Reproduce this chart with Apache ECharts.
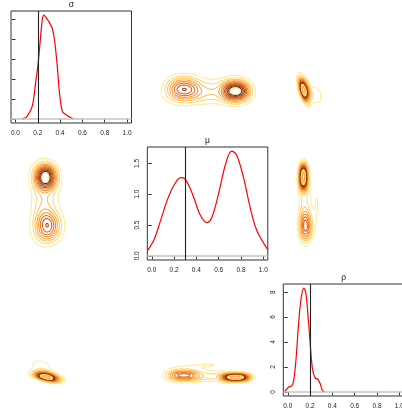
<!DOCTYPE html>
<html>
<head>
<meta charset="utf-8">
<script src="https://cdn.jsdelivr.net/npm/echarts@6/dist/echarts.min.js"></script>
<style>
html, body { margin: 0; padding: 0; background: #fff; }
#chart { width: 402px; height: 410px; }
</style>
</head>
<body>
<div id="chart"></div>
<script>
var paramNames = ['σ', 'μ', 'ρ'];
var trueValues = [0.2, 0.3, 0.2];
var xTicks = [0, 0.2, 0.4, 0.6, 0.8, 1.0];

// marginal posterior densities (diagonal panels)
var sigmaX = [0.06, 0.10, 0.15, 0.18, 0.20, 0.22, 0.24, 0.255, 0.27, 0.30, 0.33, 0.35, 0.375, 0.395, 0.42, 0.45, 0.49, 0.52];
var sigmaY = [0.00, 0.10, 0.63, 1.80, 2.63, 3.80, 4.97, 5.22, 5.13, 4.88, 4.55, 3.97, 2.63, 1.30, 0.38, 0.22, 0.08, 0.00];
var muX = [-0.04, 0.02, 0.08, 0.14, 0.20, 0.26, 0.29, 0.33, 0.38, 0.435, 0.495, 0.54, 0.60, 0.66, 0.715, 0.76, 0.82, 0.88, 0.94, 1.04];
var muY = [0.08, 0.26, 0.58, 0.91, 1.15, 1.27, 1.26, 1.15, 0.93, 0.66, 0.54, 0.63, 1.02, 1.48, 1.70, 1.64, 1.29, 0.80, 0.42, 0.10];
var rhoX = [-0.03, -0.01, 0.012, 0.036, 0.051, 0.072, 0.096, 0.119, 0.143, 0.161, 0.179, 0.20, 0.221, 0.245, 0.269, 0.29, 0.31, 0.334];
var rhoY = [0.00, 0.21, 0.40, 0.48, 0.80, 2.40, 5.33, 7.47, 8.32, 8.00, 6.40, 4.00, 1.87, 1.12, 1.01, 0.67, 0.13, 0.00];
var densityTicks = [[0, 1, 2, 3, 4, 5], [0, 0.5, 1, 1.5], [0, 2, 4, 6, 8]];
var densityLabels = [false, true, true];

var compWeight = [0.16, 0.16, 0.19, 0.19, 0.18, 0.12];
var compMean = [[0.29, 0.22, 0.16], [0.29, 0.33, 0.16], [0.27, 0.71, 0.14], [0.27, 0.80, 0.14], [0.28, 0.50, 0.15], [0.23, 0.50, 0.26]];
var compSd = [[0.075, 0.07, 0.036], [0.075, 0.07, 0.036], [0.065, 0.06, 0.024], [0.065, 0.06, 0.024], [0.08, 0.16, 0.035], [0.065, 0.25, 0.035]];
var compCorrSR = [-0.6, -0.6, -0.6, -0.6, -0.5, -0.3];
var pairLevels = { '0-1': 11, '0-2': 14, '1-2': 14 };
var contourColors = ['#FFEB9C', '#FFD978', '#FEC357', '#FDA93C', '#F68E2B', '#E8731F', '#D15C16', '#B3470F', '#913509', '#6E2405'];

var colLeft = [11, 147.3, 283.3];
var rowTop = [11, 147, 284];
var rowH = [112, 113, 112];
var cellW = 120.5;
var font = '"Liberation Sans", Arial, sans-serif';

var chart = echarts.init(document.getElementById('chart'));

function pairDensity(a, b, x, y) {
    var s = 0;
    for (var k = 0; k < compWeight.length; k++) {
        var m = compMean[k], sd = compSd[k];
        var r = (a === 0 && b === 2) ? compCorrSR[k] : 0;
        var zx = (x - m[a]) / sd[a], zy = (y - m[b]) / sd[b];
        var q = (zx * zx - 2 * r * zx * zy + zy * zy) / (1 - r * r);
        s += compWeight[k] * Math.exp(-q / 2) / (2 * Math.PI * sd[a] * sd[b] * Math.sqrt(1 - r * r));
    }
    return s;
}

// marching squares, segments chained into polylines
function contourLines(grid, xs, ys, level) {
    var pts = {}, adj = {};
    function hEdge(i, j) {
        var k = 'h' + i + '_' + j;
        if (!(k in pts)) {
            var t = (level - grid[j][i]) / (grid[j][i + 1] - grid[j][i]);
            pts[k] = [xs[i] + t * (xs[i + 1] - xs[i]), ys[j]];
        }
        return k;
    }
    function vEdge(i, j) {
        var k = 'v' + i + '_' + j;
        if (!(k in pts)) {
            var t = (level - grid[j][i]) / (grid[j + 1][i] - grid[j][i]);
            pts[k] = [xs[i], ys[j] + t * (ys[j + 1] - ys[j])];
        }
        return k;
    }
    function link(a, b) {
        (adj[a] = adj[a] || []).push(b);
        (adj[b] = adj[b] || []).push(a);
    }
    for (var j = 0; j < ys.length - 1; j++) {
        for (var i = 0; i < xs.length - 1; i++) {
            var v0 = grid[j][i] >= level, v1 = grid[j][i + 1] >= level;
            var v2 = grid[j + 1][i + 1] >= level, v3 = grid[j + 1][i] >= level;
            var e = [];
            if (v0 !== v1) e.push(hEdge(i, j));
            if (v1 !== v2) e.push(vEdge(i + 1, j));
            if (v2 !== v3) e.push(hEdge(i, j + 1));
            if (v3 !== v0) e.push(vEdge(i, j));
            if (e.length === 2) {
                link(e[0], e[1]);
            } else if (e.length === 4) {
                var c = (grid[j][i] + grid[j][i + 1] + grid[j + 1][i + 1] + grid[j + 1][i]) / 4 >= level;
                if (c === v0) { link(e[0], e[1]); link(e[2], e[3]); }
                else { link(e[3], e[0]); link(e[1], e[2]); }
            }
        }
    }
    var visited = {}, lines = [];
    function walk(start) {
        var line = [pts[start]], cur = start;
        visited[start] = true;
        while (true) {
            var nb = adj[cur], nxt = null;
            for (var q = 0; q < nb.length; q++) {
                if (!visited[nb[q]]) { nxt = nb[q]; break; }
            }
            if (nxt === null) break;
            visited[nxt] = true;
            line.push(pts[nxt]);
            cur = nxt;
        }
        if (adj[cur].indexOf(start) >= 0 && line.length > 2) line.push(pts[start]);
        lines.push(line);
    }
    var keys = Object.keys(adj);
    keys.forEach(function (k) { if (!visited[k] && adj[k].length === 1) walk(k); });
    keys.forEach(function (k) { if (!visited[k]) walk(k); });
    return lines;
}

var varRange = [[0.0, 0.7], [-0.04, 1.04], [-0.08, 0.5]];
var nGrid = 150;
var pairContours = {};
[[0, 1], [0, 2], [1, 2]].forEach(function (p) {
    var a = p[0], b = p[1];
    var xs = [], ys = [], grid = [], mx = 0;
    for (var i = 0; i < nGrid; i++) {
        xs.push(varRange[a][0] + (varRange[a][1] - varRange[a][0]) * i / (nGrid - 1));
        ys.push(varRange[b][0] + (varRange[b][1] - varRange[b][0]) * i / (nGrid - 1));
    }
    for (var j = 0; j < nGrid; j++) {
        var row = [];
        for (var i2 = 0; i2 < nGrid; i2++) {
            var v = pairDensity(a, b, xs[i2], ys[j]);
            row.push(v);
            if (v > mx) mx = v;
        }
        grid.push(row);
    }
    var n = pairLevels[a + '-' + b];
    var step = mx / (n + 1.2);
    var out = [];
    for (var k = 1; k <= n; k++) {
        contourLines(grid, xs, ys, k * step).forEach(function (ln) {
            out.push({ coords: ln, color: contourColors[(k - 1) % contourColors.length] });
        });
    }
    pairContours[a + '-' + b] = out;
});

var curves = [[sigmaX, sigmaY], [muX, muY], [rhoX, rhoY]];
var grids = [], xAxes = [], yAxes = [], series = [], graphics = [];

for (var r = 0; r < 3; r++) {
    for (var c = 0; c < 3; c++) {
        var idx = r * 3 + c, diag = r === c;
        grids.push({
            left: colLeft[c], top: rowTop[r], width: cellW, height: rowH[r],
            show: diag, borderColor: '#333', borderWidth: 1, backgroundColor: 'rgba(0,0,0,0)',
            containLabel: false, outerBoundsMode: 'none'
        });
        xAxes.push({
            type: 'value', gridIndex: idx, min: -0.04, max: 1.04, show: diag,
            axisLine: { show: false }, splitLine: { show: false },
            axisTick: { show: true, length: 3.5, customValues: xTicks, lineStyle: { color: '#333' } },
            axisLabel: {
                customValues: xTicks, fontSize: 6.5, fontFamily: font, color: '#222', margin: 7,
                formatter: function (v) { return v.toFixed(1); }
            }
        });
        if (diag) {
            var ymax = Math.max.apply(null, curves[c][1]);
            yAxes.push({
                type: 'value', gridIndex: idx, min: -0.04 * ymax, max: 1.04 * ymax,
                axisLine: { show: false }, splitLine: { show: false },
                axisTick: { show: true, length: 3.5, customValues: densityTicks[c], lineStyle: { color: '#333' } },
                axisLabel: {
                    show: densityLabels[c], customValues: densityTicks[c], rotate: 90,
                    fontSize: 6.5, fontFamily: font, color: '#222', margin: 7,
                    formatter: c === 1 ? function (v) { return v.toFixed(1); } : function (v) { return String(v); }
                }
            });
            series.push({
                type: 'line', xAxisIndex: idx, yAxisIndex: idx,
                data: curves[c][0].map(function (x, i) { return [x, curves[c][1][i]]; }),
                smooth: 0.35, showSymbol: false, silent: true, animation: false,
                lineStyle: { color: '#FF0000', width: 1.2 }, z: 3,
                markLine: {
                    silent: true, animation: false, symbol: ['none', 'none'], label: { show: false },
                    data: [
                        { yAxis: 0, lineStyle: { color: '#c4c4c4', width: 1.5, type: 'solid' } },
                        { xAxis: trueValues[c], lineStyle: { color: '#222', width: 1.1, type: 'solid' } }
                    ]
                }
            });
            graphics.push({
                type: 'text', x: colLeft[c] + cellW / 2, y: rowTop[r] - 6,
                style: { text: paramNames[c], font: '8.5px ' + font, fill: '#111', align: 'center', verticalAlign: 'middle', textAlign: 'center', textVerticalAlign: 'middle' }
            });
        } else {
            yAxes.push({ type: 'value', gridIndex: idx, min: -0.04, max: 1.04, show: false, splitLine: { show: false } });
            var a = Math.min(r, c), b = Math.max(r, c);
            var swap = c > r;
            var items = pairContours[a + '-' + b].map(function (o) {
                return {
                    coords: swap ? o.coords.map(function (p) { return [p[1], p[0]]; }) : o.coords,
                    lineStyle: { color: o.color }
                };
            });
            series.push({
                type: 'lines', coordinateSystem: 'cartesian2d', xAxisIndex: idx, yAxisIndex: idx,
                polyline: true, silent: true, animation: false,
                lineStyle: { width: 1.1, opacity: 1 },
                data: items
            });
        }
    }
}

chart.setOption({
    animation: false,
    grid: grids,
    xAxis: xAxes,
    yAxis: yAxes,
    series: series,
    graphic: graphics
});
</script>
</body>
</html>
